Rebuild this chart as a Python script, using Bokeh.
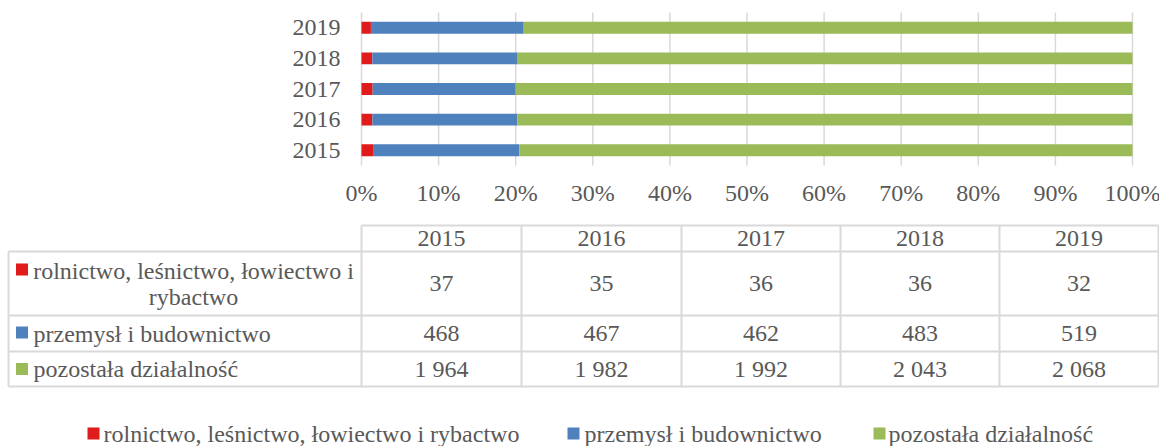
from bokeh.plotting import figure
from bokeh.models import ColumnDataSource, Range1d
from bokeh.core.properties import value
from bokeh.embed import file_html
from bokeh.resources import INLINE

# ---- data ----
years = ["2015", "2016", "2017", "2018", "2019"]
rolnictwo = [37, 35, 36, 36, 32]
przemysl = [468, 467, 462, 483, 519]
pozostala = [1964, 1982, 1992, 2043, 2068]
series_names = ["rolnictwo, leśnictwo, łowiectwo i rybactwo",
                "przemysł i budownictwo",
                "pozostała działalność"]
row_label_lines = ["rolnictwo, leśnictwo, łowiectwo i", "rybactwo"]
x_ticks = [0, 10, 20, 30, 40, 50, 60, 70, 80, 90, 100]
x_tick_labels = ["0%", "10%", "20%", "30%", "40%", "50%", "60%", "70%", "80%", "90%", "100%"]

# ---- styles / layout (pixels on the canvas) ----
colors = ["#e01b1b", "#4f81bd", "#9bbb59"]
FONT = value("Liberation Serif")
FS = "24px"
TXT = "#595959"
GRID = "#d9d9d9"
W, H = 1159, 446
PLOT_L, PLOT_R = 361, 1132       # 0% and 100%
PLOT_T, PLOT_B = 12, 165         # top / bottom of category band area

# scale of the percentage axis
ppx = (PLOT_R - PLOT_L) / 100.0
pct_range = Range1d(-PLOT_L / ppx, (W - PLOT_L) / ppx)
# scale of the year axis (numeric years, one band per year)
band = (PLOT_B - PLOT_T) / len(years)
y_first = int(years[0])
yr_bottom = y_first - 0.5 - (H - PLOT_B) / band
yr_top = y_first - 0.5 + PLOT_B / band
yr_range = Range1d(yr_bottom, yr_top)

totals = [a + b + c for a, b, c in zip(rolnictwo, przemysl, pozostala)]
src = ColumnDataSource(dict(
    year=[int(y) for y in years],
    r=[100.0 * v / t for v, t in zip(rolnictwo, totals)],
    b=[100.0 * v / t for v, t in zip(przemysl, totals)],
    g=[100.0 * v / t for v, t in zip(pozostala, totals)],
))

p = figure(width=W, height=H, x_range=Range1d(0, W), y_range=Range1d(H, 0),
           x_axis_type=None, y_axis_type=None, min_border=0,
           min_border_left=0, min_border_right=0, min_border_top=0,
           min_border_bottom=0,
           output_backend="svg", toolbar_location=None)
p.extra_x_ranges = {"pct": pct_range}
p.extra_y_ranges = {"yrs": yr_range}
p.outline_line_color = None
p.grid.grid_line_color = None

# vertical gridlines at the percentage ticks
p.segment(x0=x_ticks, x1=x_ticks, y0=[PLOT_T] * len(x_ticks), y1=[PLOT_B] * len(x_ticks),
          x_range_name="pct", line_color=GRID, line_width=1.5)

# stacked bars
p.hbar_stack(["r", "b", "g"], y="year", height=0.39, color=colors,
             line_color=None, source=src, x_range_name="pct", y_range_name="yrs")

# x tick labels
p.text(x=x_ticks, y=[192] * len(x_ticks), text=x_tick_labels, x_range_name="pct",
       text_font=FONT, text_font_size=FS, text_color=TXT,
       text_align="center", text_baseline="middle")
# year labels
p.text(x=[340] * len(years), y=[int(y) for y in years], text=years, y_range_name="yrs",
       text_font=FONT, text_font_size=FS, text_color=TXT,
       text_align="right", text_baseline="middle")

# ---- data table ----
col_edges = [361, 521, 681, 840, 999, 1158]
row_edges = [225, 251, 315, 351, 386]
x0s, y0s, x1s, y1s = [], [], [], []
x0s.append(col_edges[0]); y0s.append(row_edges[0]); x1s.append(col_edges[-1]); y1s.append(row_edges[0])
for y in row_edges[1:]:
    x0s.append(8); y0s.append(y); x1s.append(col_edges[-1]); y1s.append(y)
x0s.append(8); y0s.append(row_edges[1]); x1s.append(8); y1s.append(row_edges[-1])
for x in col_edges:
    x0s.append(x); y0s.append(row_edges[0]); x1s.append(x); y1s.append(row_edges[-1])
p.segment(x0=x0s, y0=y0s, x1=x1s, y1=y1s, line_color=GRID, line_width=2)

centers = [(a + b) / 2 for a, b in zip(col_edges[:-1], col_edges[1:])]
row_mid = [(a + b) / 2 for a, b in zip(row_edges[:-1], row_edges[1:])]


def fmt(v):
    return f"{v:,}".replace(",", " ")


tx, ty, tt = [], [], []
for c, yr in zip(centers, years):
    tx.append(c); ty.append(row_mid[0]); tt.append(yr)
for ri, ser in enumerate([rolnictwo, przemysl, pozostala]):
    for c, v in zip(centers, ser):
        tx.append(c); ty.append(row_mid[ri + 1]); tt.append(fmt(v))
p.text(x=tx, y=ty, text=tt, text_font=FONT, text_font_size=FS,
       text_color=TXT, text_align="center", text_baseline="middle")

# row labels
p.text(x=[193, 193], y=[270, 296], text=row_label_lines,
       text_font=FONT, text_font_size=FS, text_color=TXT,
       text_align="center", text_baseline="middle")
p.text(x=[33, 33], y=[row_mid[2], row_mid[3]], text=series_names[1:],
       text_font=FONT, text_font_size=FS, text_color=TXT,
       text_align="left", text_baseline="middle")
p.scatter(x=[21.5, 21.5, 21.5], y=[269, 332, 368.5], marker="square", size=12,
          color=colors, line_color=None)

# ---- legend ----
leg_y = 433
leg_mx = [93, 573, 879]
leg_tx = [103, 584, 888]
p.scatter(x=leg_mx, y=[leg_y] * 3, marker="square", size=12,
          color=colors, line_color=None)
p.text(x=leg_tx, y=[leg_y] * 3, text=series_names, text_font=FONT,
       text_font_size=FS, text_color=TXT, text_align="left",
       text_baseline="middle")

open("out.html", "w").write(file_html(p, INLINE))
